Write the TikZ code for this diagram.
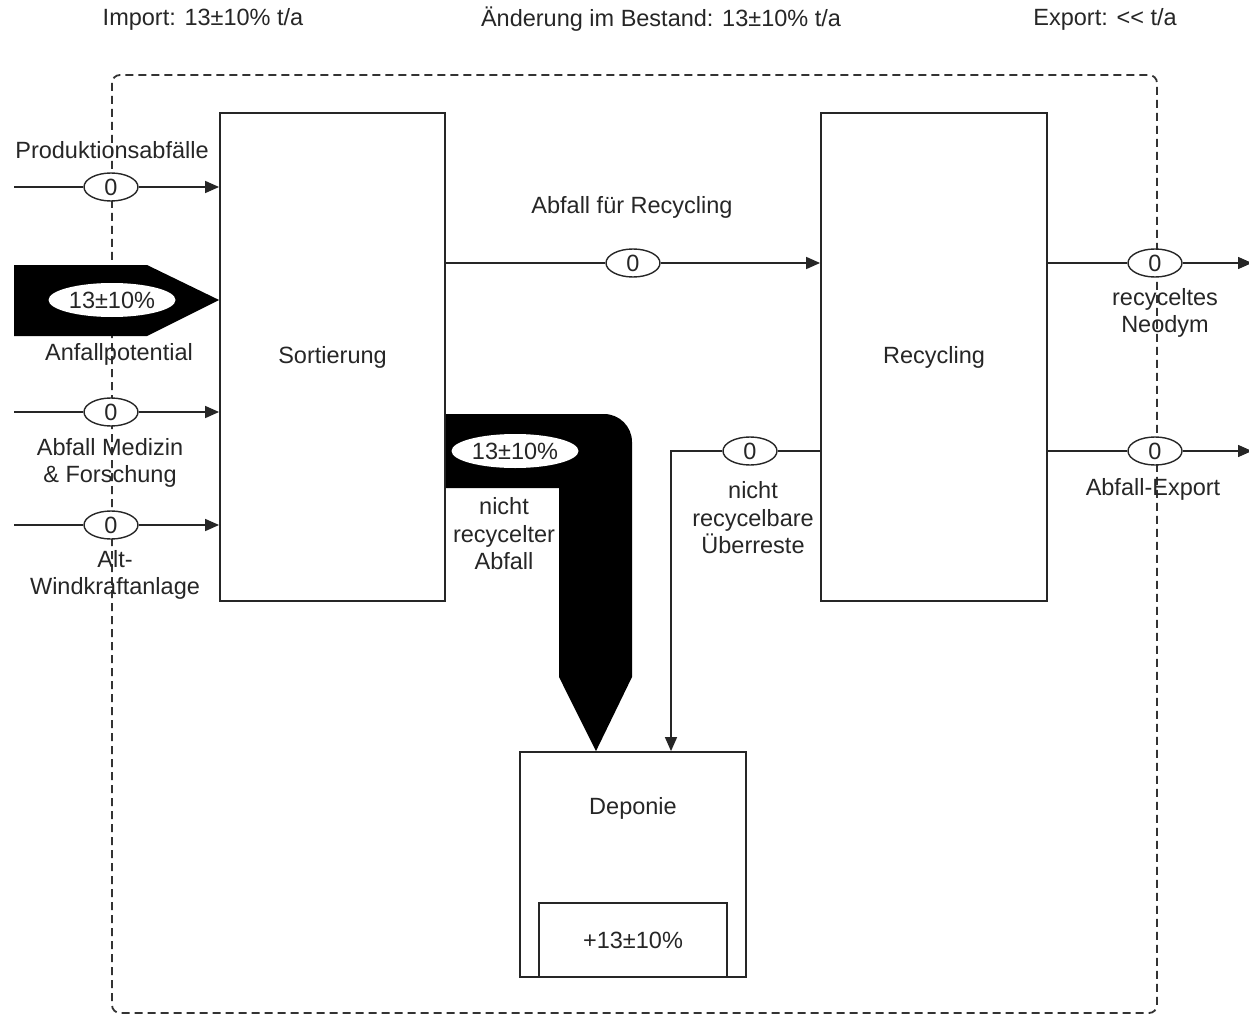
\documentclass[tikz,border=0pt]{standalone}
\usepackage{fontspec}
\setmainfont{Liberation Sans}
\usetikzlibrary{arrows.meta,shapes.geometric}

\begin{document}
\begin{tikzpicture}[x=1pt,y=-1pt,
  every node/.style={font=\fontsize{23.5}{27.5}\selectfont, text=black!85},
  box/.style={draw=black!85, line width=1.8pt, inner sep=0pt},
  flowval/.style={ellipse, draw=black!85, fill=white, line width=1.4pt, minimum width=54pt, minimum height=28pt, inner sep=0pt},
  bigval/.style={ellipse, fill=white, minimum width=127pt, minimum height=34pt, inner sep=0pt},
  flow/.style={draw=black!85, line width=1.5pt, -{Triangle[length=14pt,width=12pt]}},
  lbl/.style={align=center},
  boundary/.style={draw=black!80, line width=1.8pt, dash pattern=on 8pt off 5pt, rounded corners=8pt}
]
\useasboundingbox (0,0) rectangle (1249,1016);

% balance figures
\node (imp) at (203,19) {Import: 13±10\% t/a};
\node (bst) at (661,19) {Änderung im Bestand: 13±10\% t/a};
\node (exp) at (1105,19) {Export: <\kern0pt< t/a};

% system boundary
\draw[boundary] (112,75) rectangle (1157,1013);

% processes
\node[box, minimum width=225pt, minimum height=488pt] (sort) at (332.5,357) {Sortierung};
\node[box, minimum width=226pt, minimum height=488pt] (rec) at (934,357) {Recycling};
\node[box, minimum width=226pt, minimum height=225pt] (dep) at (633,864.5) {};
\node (deplbl) at (633,808) {Deponie};
\node[box, minimum width=188pt, minimum height=74pt] (stock) at (633,940) {+13±10\%};

% main flow: Anfallpotential
\fill[black] (14,265) -- (147,265) -- (sort.west |- 0,300) -- (147,336) -- (14,336) -- cycle;
\node[bigval] (v2) at (112,300) {13±10\%};
\node (l2) at (119,354) {Anfallpotential};

% main flow: nicht recycelter Abfall
\fill[black] (sort.east |- 0,414) -- (604,414) arc[start angle=-90, end angle=0, radius=28]
  -- (632,677) -- (dep.north -| 596,0) -- (559,677) -- (559,488) -- (sort.east |- 0,488) -- cycle;
\node[bigval] (v7) at (515,451) {13±10\%};
\node[lbl] (l7) at (504,534) {nicht\\recycelter\\Abfall};

% minor inputs
\coordinate (in1) at (14,187);
\node[flowval] (v1) at (111,187) {0};
\draw[flow] (in1) -- (v1) -- (v1 -| sort.west);
\node (l1) at (112,150) {Produktionsabfälle};

\coordinate (in3) at (14,412);
\node[flowval] (v3) at (111,412) {0};
\draw[flow] (in3) -- (v3) -- (v3 -| sort.west);
\node[lbl] (l3) at (110,463) {Abfall Medizin\\\& Forschung};

\coordinate (in4) at (14,525);
\node[flowval] (v4) at (111,525) {0};
\draw[flow] (in4) -- (v4) -- (v4 -| sort.west);
\node[lbl] (l4) at (115,575) {Alt-\\Windkraftanlage};

% Sortierung -> Recycling
\node[flowval] (v5) at (633,263) {0};
\draw[flow] (sort.east |- v5) -- (v5) -- (v5 -| rec.west);
\node (l5) at (632,207) {Abfall für Recycling};

% outputs of Recycling
\node[flowval] (v6) at (1155,263) {0};
\coordinate (out1) at (1252,263);
\draw[flow] (rec.east |- v6) -- (v6) -- (out1);
\node[lbl] (l6) at (1165,313) {recyceltes\\Neodym};

\node[flowval] (v9) at (1155,451) {0};
\coordinate (out2) at (1252,451);
\draw[flow] (rec.east |- v9) -- (v9) -- (out2);
\node (l9) at (1153,489) {Abfall-Export};

% Recycling residues -> Deponie
\node[flowval] (v8) at (750,451) {0};
\coordinate (bend) at (671,451);
\draw[flow] (rec.west |- v8) -- (v8) -- (bend) -- (bend |- dep.north);
\node[lbl] (l8) at (753,518) {nicht\\recycelbare\\Überreste};

\end{tikzpicture}
\end{document}
